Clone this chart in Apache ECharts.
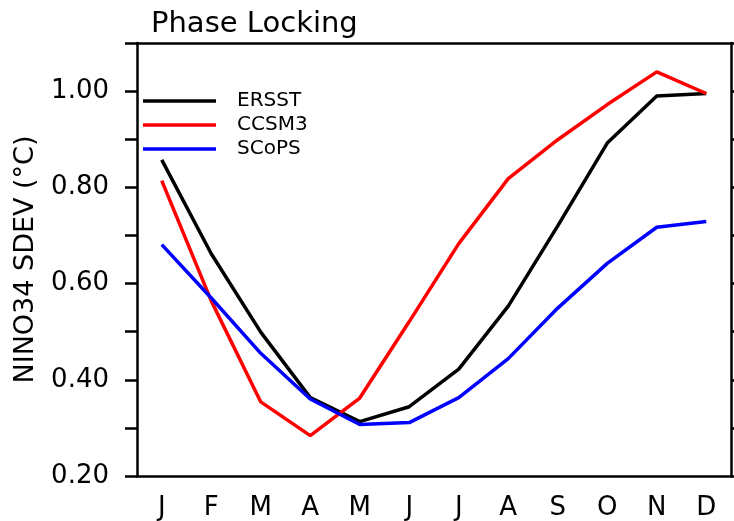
<!DOCTYPE html>
<html>
<head>
<meta charset="utf-8">
<script src="https://cdn.jsdelivr.net/npm/echarts@6/dist/echarts.min.js"></script>
<style>html,body{margin:0;padding:0;background:#fff}#c{width:734px;height:521px}</style>
</head>
<body>
<div id="c"></div>
<script>
var months = ['J','F','M','A','M','J','J','A','S','O','N','D'];
var ersst = [0.857, 0.662, 0.499, 0.363, 0.313, 0.344, 0.422, 0.553, 0.720, 0.892, 0.990, 0.995];
var ccsm3 = [0.814, 0.564, 0.354, 0.284, 0.362, 0.521, 0.683, 0.818, 0.899, 0.972, 1.040, 0.995];
var scops = [0.681, 0.570, 0.455, 0.360, 0.307, 0.311, 0.363, 0.444, 0.549, 0.642, 0.717, 0.729];
var seriesNames = ['ERSST','CCSM3','SCoPS'];
var seriesColors = ['#000000','#ff0000','#0000ff'];
var titleText = 'Phase Locking';
var yName = 'NINO34 SDEV (°C)';

var FONT = 'DejaVu Sans';
var chart = echarts.init(document.getElementById('c'), null, {renderer:'canvas'});
var axisLineStyle = {color:'#000', width:2.5};
var tickStyle = {color:'#000', width:2.5};
function mkSeries(name, data, color){
  return {name:name, type:'line', data:data, symbol:'none', xAxisIndex:0, yAxisIndex:0,
    lineStyle:{color:color, width:3.5}, itemStyle:{color:color}, animation:false, z:3};
}
chart.setOption({
  animation:false,
  backgroundColor:'#fff',
  title:{text:titleText, left:146, top:5, textStyle:{fontFamily:FONT, fontSize:29, fontWeight:'normal', color:'#000'}},
  legend:{orient:'vertical', left:143, top:91, itemWidth:73, itemHeight:3.5, itemGap:4, icon:'rect', padding:0,
    data:seriesNames,
    formatter:function(n){ return '{a|' + n + '}'; },
    textStyle:{fontFamily:FONT, fontSize:20, color:'#000',
      rich:{a:{fontFamily:FONT, fontSize:20, color:'#000', lineHeight:20, padding:[0,0,0,16]}}}},
  grid:{left:137, right:3, top:43, bottom:44, containLabel:false},
  xAxis:[
    {type:'category', data:months, position:'bottom', boundaryGap:true,
     axisLine:{lineStyle:axisLineStyle}, axisTick:{length:12, lineStyle:tickStyle, inside:false},
     axisLabel:{fontFamily:FONT, fontSize:26, color:'#000', margin:19, interval:0}, splitLine:{show:false}},
    {type:'category', data:months, position:'top', boundaryGap:true,
     axisLine:{lineStyle:axisLineStyle}, axisTick:{length:12, lineStyle:tickStyle},
     axisLabel:{show:false}, splitLine:{show:false}}
  ],
  yAxis:[
    {type:'value', min:0.2, max:1.1, interval:0.1, position:'left',
     name:yName, nameLocation:'middle', nameGap:98, nameRotate:90,
     nameTextStyle:{fontFamily:FONT, fontSize:27, color:'#000'},
     axisLine:{show:true, lineStyle:axisLineStyle}, axisTick:{show:true, length:12, lineStyle:tickStyle},
     axisLabel:{fontFamily:FONT, fontSize:26, color:'#000', margin:28,
       formatter:function(v){ var k=Math.round(v*10); return (k%2===0)? v.toFixed(2) : ''; }},
     splitLine:{show:false}},
    {type:'value', min:0.2, max:1.1, interval:0.1, position:'right',
     axisLine:{show:true, lineStyle:axisLineStyle}, axisTick:{show:true, length:12, lineStyle:tickStyle},
     axisLabel:{show:false}, splitLine:{show:false}}
  ],
  series:[
    mkSeries(seriesNames[0], ersst, seriesColors[0]),
    mkSeries(seriesNames[1], ccsm3, seriesColors[1]),
    mkSeries(seriesNames[2], scops, seriesColors[2])
  ]
});
</script>
</body>
</html>
